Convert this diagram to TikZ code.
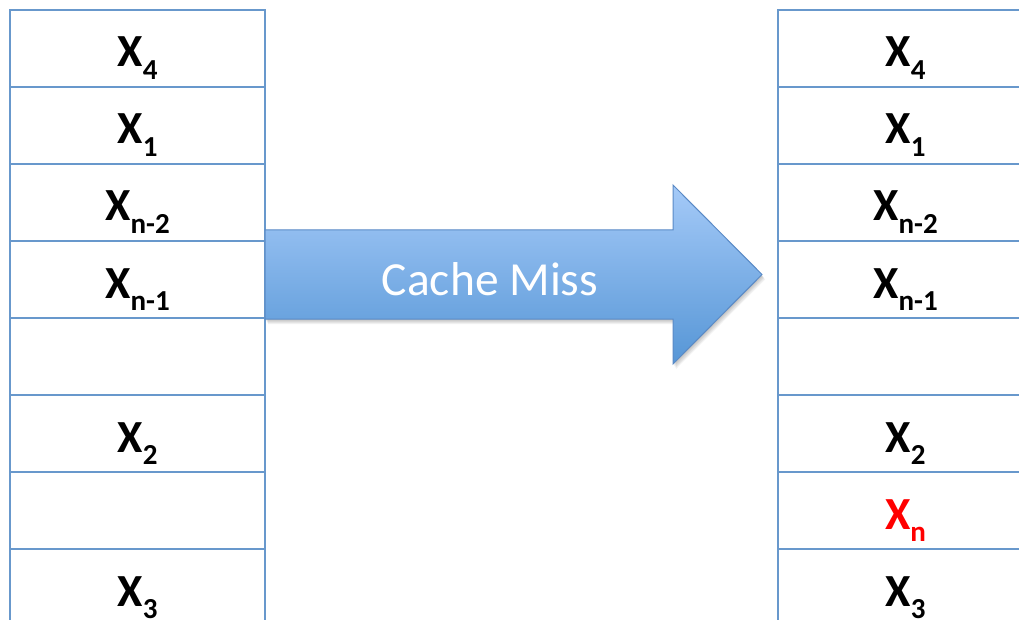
\documentclass[tikz,border=0pt]{standalone}
\usepackage{fontspec}
\setmainfont{Carlito}
\definecolor{cellblue}{RGB}{104,152,204}
\definecolor{arrowtop}{RGB}{165,202,248}
\definecolor{arrowbot}{RGB}{86,150,214}
\definecolor{arrowedge}{RGB}{90,138,198}
\definecolor{newred}{RGB}{255,0,0}
\newcommand\cellx[1]{X\raisebox{-12.5pt}{\fontsize{29}{29}\selectfont #1}}
\tikzset{
  cell/.style={draw=cellblue, line width=2.5pt, minimum width=255pt,
    minimum height=77pt, inner sep=0pt, outer sep=0pt, anchor=north west},
  lab/.style={font=\fontsize{46}{54}\selectfont\bfseries, inner sep=0pt, anchor=base},
  misslab/.style={font=\fontsize{47.5}{56}\selectfont, text=white, inner sep=0pt, anchor=base}
}
\begin{document}
\begin{tikzpicture}[x=1pt,y=-1pt]
\useasboundingbox (0,0) rectangle (1019,620);
\clip (0,0) rectangle (1019,620);
\fill[white] (0,0) rectangle (1019,620);
% two columns of eight cache slots
\foreach \i in {0,...,7}{
  \node[cell] (L\i) at (10,{10+77*\i}) {};
  \node[cell] (R\i) at (778,{10+77*\i}) {};
}
% slot contents before
\node[lab] (l0) at ([yshift=-57pt]L0.north) {\cellx{4}};
\node[lab] (l1) at ([yshift=-57pt]L1.north) {\cellx{1}};
\node[lab] (l2) at ([yshift=-57pt]L2.north) {\cellx{n-2}};
\node[lab] (l3) at ([yshift=-57pt]L3.north) {\cellx{n-1}};
\node[lab] (l5) at ([yshift=-57pt]L5.north) {\cellx{2}};
\node[lab] (l7) at ([yshift=-57pt]L7.north) {\cellx{3}};
% slot contents after
\node[lab] (r0) at ([yshift=-57pt]R0.north) {\cellx{4}};
\node[lab] (r1) at ([yshift=-57pt]R1.north) {\cellx{1}};
\node[lab] (r2) at ([yshift=-57pt]R2.north) {\cellx{n-2}};
\node[lab] (r3) at ([yshift=-57pt]R3.north) {\cellx{n-1}};
\node[lab] (r5) at ([yshift=-57pt]R5.north) {\cellx{2}};
\node[lab, text=newred] (r6) at ([yshift=-57pt]R6.north) {\cellx{n}};
\node[lab] (r7) at ([yshift=-57pt]R7.north) {\cellx{3}};
% block arrow with soft shadow
\foreach \k in {1,...,5}{
  \fill[black, opacity=0.05]
    (265+\k*0.6,230+\k) -- (673+\k*0.6,230+\k) -- (673+\k*0.6,185+\k)
    -- (762+\k*0.6,274.5+\k) -- (673+\k*0.6,364+\k) -- (673+\k*0.6,319+\k)
    -- (265+\k*0.6,319+\k) -- cycle;
}
\path[draw=arrowedge, line width=1pt, top color=arrowtop, bottom color=arrowbot]
  (265,230) -- (673,230) -- (673,185) -- (762,274.5) -- (673,364)
  -- (673,319) -- (265,319) -- cycle;
\node[misslab] (miss) at (490,295) {Cache Miss};
\end{tikzpicture}
\end{document}
